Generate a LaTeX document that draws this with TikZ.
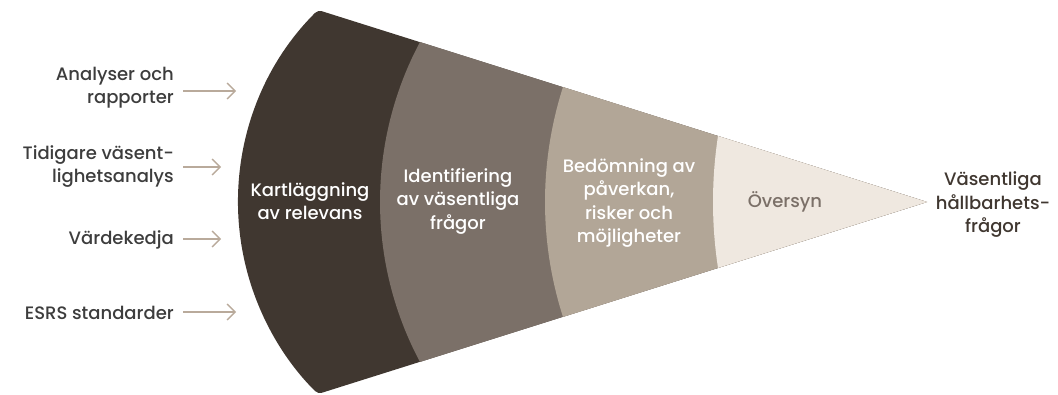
\documentclass[tikz,border=0pt]{standalone}
\usepackage{fontspec}
\setmainfont{Poppins}[UprightFont=* Medium]
\usetikzlibrary{arrows.meta}
\definecolor{cdark}{HTML}{403730}
\definecolor{cmid}{HTML}{7B7068}
\definecolor{clight}{HTML}{B2A697}
\definecolor{cpale}{HTML}{EFE8E0}
\definecolor{carrow}{HTML}{B9AA9B}
\definecolor{ctext}{HTML}{3D3D3D}
\begin{document}
\begin{tikzpicture}[x=1pt,y=1pt,
  lbl/.style={font=\fontsize{18}{23}\selectfont, text=ctext, align=right, anchor=east, inner sep=0pt},
  stage/.style={font=\fontsize{18}{23.5}\selectfont, text=white, align=center, inner sep=0pt},
  inarrow/.style={draw=carrow, line width=1.3pt, -{Straight Barb[length=8pt,width=16pt,line width=1.3pt]}}]
\useasboundingbox (0,-192) rectangle (1058,202);
% y = 202 - pixel_y ; center line y=0
\fill[cdark, rounded corners=4pt] (927,0) -- (318,192) arc[start angle=134.76, end angle=225.24, radius=270.4pt] -- cycle;
\fill[cmid] (927,0) -- (420,160) arc[start angle=151.93, end angle=208.07, radius=340pt] -- cycle;
\fill[clight] (927,0) -- (563,115) arc[start angle=162.21, end angle=197.79, radius=376.4pt] -- cycle;
\fill[cpale] (927,0) -- (718,66) arc[start angle=171.34, end angle=188.66, radius=438.1pt] -- cycle;
% stage labels
\node[stage] (s1) at (310,1) {Kartläggning\\av relevans};
\node[stage] (s2) at (458,1) {Identifiering\\av väsentliga\\frågor};
\node[stage] (s3) at (629,-1) {Bedömning av\\påverkan,\\risker och\\möjligheter};
\node[stage, text=cmid] (s4) at (785,0) {Översyn};
\node[stage, text=cdark] (out) at (993,-3) {Väsentliga\\hållbarhets-\\frågor};
% inputs
\node[lbl] (i1) at (174,114) {Analyser och\\rapporter};
\node[lbl] (i2) at (174,35) {Tidigare väsent-\\lighetsanalys};
\node[lbl] (i3) at (174,-38) {Värdekedja};
\node[lbl] (i4) at (174,-111) {ESRS standarder};
\coordinate (e1) at (236,111);
\coordinate (e2) at (221,35);
\coordinate (e3) at (221,-37);
\coordinate (e4) at (236,-110);
\draw[inarrow] (i1.east |- e1) ++(9,0) -- (e1);
\draw[inarrow] (i2.east |- e2) ++(9,0) -- (e2);
\draw[inarrow] (i3.east |- e3) ++(9,0) -- (e3);
\draw[inarrow] (i4.east |- e4) ++(9,0) -- (e4);
\end{tikzpicture}
\end{document}
